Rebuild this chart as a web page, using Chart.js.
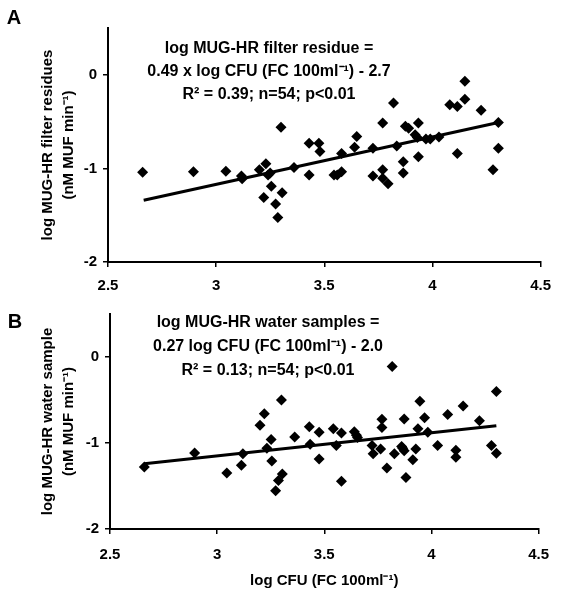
<!DOCTYPE html>
<html>
<head>
<meta charset="utf-8">
<script src="https://cdn.jsdelivr.net/npm/chart.js@4.4.1/dist/chart.umd.min.js"></script>
<style>
  html, body { margin: 0; padding: 0; background: #fff; }
  #wrap { position: relative; width: 561px; height: 596px; }
  .panel { position: absolute; left: 0; width: 561px; height: 298px; }
  #panelA { top: 0; }
  #panelB { top: 298px; }
</style>
</head>
<body>
<div id="wrap">
  <div class="panel" id="panelA"><canvas id="chartA"></canvas></div>
  <div class="panel" id="panelB"><canvas id="chartB"></canvas></div>
</div>
<script>
// values
const xTicks = [2.5, 3, 3.5, 4, 4.5];
const yTicks = [-2, -1, 0];

// panel A: filter residues
const cfuA = [2.66, 2.895, 3.045, 3.117, 3.12, 3.2, 3.23, 3.24, 3.25, 3.255, 3.22, 3.305, 3.275, 3.285,
  3.3, 3.36, 3.43, 3.475, 3.48, 3.43, 3.545, 3.56, 3.58, 3.58, 3.64, 3.65, 3.725, 3.725, 3.77, 3.77,
  3.77, 3.795, 3.82, 3.835, 3.865, 3.865, 3.875, 3.89, 3.935, 3.92, 3.93, 3.935, 3.97, 3.99, 4.03,
  4.08, 4.115, 4.115, 4.15, 4.15, 4.225, 4.305, 4.305, 4.28];
const mugA = [-1.04, -1.035, -1.03, -1.08, -1.11, -1.015, -0.95, -1.07, -1.05, -1.19, -1.31, -1.26, -1.38, -1.525,
  -0.56, -0.99, -0.73, -0.73, -0.82, -1.07, -1.07, -1.07, -1.035, -0.84, -0.775, -0.66, -0.785, -1.08, -0.515, -1.015,
  -1.105, -1.165, -0.3, -0.76, -0.93, -1.05, -0.55, -0.57, -0.515, -0.64, -0.67, -0.875, -0.685, -0.685, -0.665,
  -0.32, -0.34, -0.84, -0.07, -0.26, -0.38, -0.51, -0.785, -1.015];
const fitAx = [2.665, 4.305];
const fitAy = [-1.34, -0.51];

// panel B: water samples
const cfuB = [2.66, 2.895, 3.045, 3.113, 3.12, 3.2, 3.22, 3.232, 3.252, 3.255, 3.3, 3.304, 3.286, 3.273,
  3.362, 3.43, 3.434, 3.476, 3.476, 3.542, 3.556, 3.58, 3.58, 3.64, 3.65, 3.655, 3.723, 3.728, 3.769,
  3.769, 3.763, 3.792, 3.817, 3.827, 3.861, 3.866, 3.873, 3.873, 3.881, 3.913, 3.927, 3.937, 3.946,
  3.968, 3.983, 4.029, 4.076, 4.114, 4.114, 4.148, 4.224, 4.28, 4.303, 4.303];
const mugB = [-1.28, -1.115, -1.35, -1.26, -1.125, -0.795, -0.66, -1.06, -0.96, -1.21, -0.5, -1.36, -1.435, -1.555,
  -0.93, -0.81, -1.015, -0.875, -1.185, -0.835, -1.03, -0.885, -1.445, -0.87, -0.91, -0.935, -1.03, -1.125, -0.725,
  -0.82, -1.07, -1.29, -0.11, -1.125, -1.04, -1.06, -1.09, -0.72, -1.4, -1.195, -1.07, -0.835, -0.515,
  -0.705, -0.875, -1.03, -0.67, -1.085, -1.165, -0.57, -0.74, -1.03, -1.12, -0.4];
const fitBx = [2.66, 4.303];
const fitBy = [-1.24, -0.8];

const FONT = "'Liberation Sans', Arial, Helvetica, sans-serif";
Chart.defaults.font.family = FONT;
Chart.defaults.font.weight = "bold";
Chart.defaults.color = "#000";

function pts(xs, ys) {
  return xs.map((x, i) => ({ x: x, y: ys[i] }));
}

// letter + regression text drawn on top of each panel
const panelText = {
  id: "panelText",
  afterDraw(chart, args, opts) {
    const ctx = chart.ctx;
    ctx.save();
    ctx.fillStyle = "#000";
    ctx.textBaseline = "middle";
    ctx.textAlign = "center";
    ctx.font = "bold 20px " + FONT;
    ctx.fillText(opts.letter, opts.letterX, opts.letterY);
    ctx.font = "bold 16px " + FONT;
    opts.lines.forEach((t, i) => ctx.fillText(t, opts.cx, opts.y0 + i * opts.dy));
    ctx.restore();
  }
};

function makeChart(id, xs, ys, fx, fy, cfg) {
  const ctx = document.getElementById(id).getContext("2d");
  return new Chart(ctx, {
    type: "scatter",
    data: {
      datasets: [
        {
          data: pts(xs, ys),
          pointStyle: "rectRot",
          pointRadius: 5.5,
          backgroundColor: "#000",
          borderColor: "#000",
          borderWidth: 0,
        },
        {
          type: "line",
          data: pts(fx, fy),
          showLine: true,
          pointRadius: 0,
          borderColor: "#000",
          borderWidth: 3,
        },
      ],
    },
    options: {
      responsive: true,
      maintainAspectRatio: false,
      animation: false,
      layout: { padding: cfg.padding },
      plugins: {
        legend: { display: false },
        tooltip: { enabled: false },
        panelText: cfg.text,
      },
      scales: {
        x: {
          type: "linear",
          min: 2.5,
          max: 4.5,
          afterBuildTicks: (s) => { s.ticks = xTicks.map((v) => ({ value: v })); },
          afterFit: (s) => { s.height = cfg.xHeight; },
          ticks: {
            font: { size: 15, weight: "bold" },
            padding: cfg.xTickPad,
            color: "#000",
            callback: (v) => String(v),
          },
          grid: { drawOnChartArea: false, drawTicks: true, tickLength: 5, color: "#000", lineWidth: 1.5 },
          border: { color: "#000", width: 2 },
          title: cfg.xTitle,
        },
        y: {
          type: "linear",
          min: -2,
          max: 0.5,
          afterBuildTicks: (s) => { s.ticks = yTicks.map((v) => ({ value: v })); },
          afterFit: (s) => { s.width = cfg.yWidth; },
          ticks: { font: { size: 15, weight: "bold" }, padding: 6, color: "#000", callback: (v) => String(v) },
          grid: { drawOnChartArea: false, drawTicks: true, tickLength: 5, color: "#000", lineWidth: 1.5 },
          border: { color: "#000", width: 2 },
          title: {
            display: true,
            text: cfg.yTitle,
            font: { size: 15, weight: "bold", lineHeight: 1.35 },
            color: "#000",
            padding: { top: 38, bottom: 0 },
          },
        },
      },
    },
    plugins: [panelText],
  });
}

makeChart("chartA", cfuA, mugA, fitAx, fitAy, {
  padding: { top: 28, right: 11, left: 0, bottom: 0 },
  xHeight: 36,
  yWidth: 108,
  xTickPad: 10,
  yTitle: ["log MUG-HR filter residues", "(nM MUF min\u207B\u00B9)"],
  xTitle: { display: false },
  text: {
    letter: "A", letterX: 14, letterY: 18,
    cx: 269, y0: 49, dy: 23,
    lines: ["log MUG-HR filter residue =", "0.49 x log CFU (FC 100ml\u207B\u00B9) - 2.7", "R\u00B2 = 0.39; n=54; p<0.01"],
  },
});

makeChart("chartB", cfuB, mugB, fitBx, fitBy, {
  padding: { top: 16, right: 12, left: 0, bottom: 0 },
  xHeight: 67,
  yWidth: 110,
  xTickPad: 12,
  yTitle: ["log MUG-HR water sample", "(nM MUF min\u207B\u00B9)"],
  xTitle: {
    display: true,
    text: "log CFU (FC 100ml\u207B\u00B9)",
    font: { size: 15, weight: "bold", lineHeight: 1.2 },
    color: "#000",
    padding: { top: 0, bottom: 6 },
  },
  text: {
    letter: "B", letterX: 15, letterY: 24,
    cx: 268, y0: 25, dy: 24,
    lines: ["log MUG-HR water samples =", "0.27 log CFU (FC 100ml\u207B\u00B9) - 2.0", "R\u00B2 = 0.13; n=54; p<0.01"],
  },
});
</script>
</body>
</html>
